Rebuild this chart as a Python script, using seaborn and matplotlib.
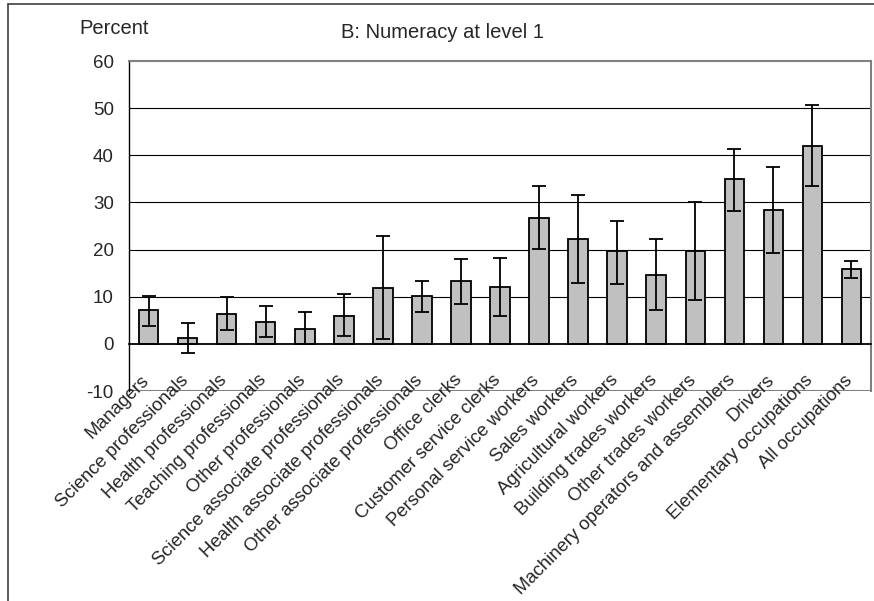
import matplotlib
matplotlib.use("Agg")
import matplotlib.pyplot as plt
import matplotlib.transforms as mtransforms
from matplotlib.lines import Line2D
import seaborn as sns
import numpy as np
import pandas as pd

# categories and values
occupations = [
    "Managers", "Science professionals", "Health professionals",
    "Teaching professionals", "Other professionals",
    "Science associate professionals", "Health associate professionals",
    "Other associate professionals", "Office clerks",
    "Customer service clerks", "Personal service workers", "Sales workers",
    "Agricultural workers", "Building trades workers", "Other trades workers",
    "Machinery operators and assemblers", "Drivers",
    "Elementary occupations", "All occupations",
]
share = [7.2, 1.3, 6.3, 4.7, 3.2, 6.0, 11.8, 10.2, 13.3, 12.1,
         26.6, 22.3, 19.7, 14.6, 19.8, 34.9, 28.5, 41.9, 15.9]
ci_low = [3.8, -2.0, 2.9, 1.4, 0.0, 1.6, 1.0, 6.8, 8.5, 5.9,
          20.1, 13.0, 12.7, 7.2, 9.4, 28.1, 19.2, 33.4, 14.0]
ci_high = [10.2, 4.4, 10.0, 8.1, 6.8, 10.6, 22.9, 13.3, 18.0, 18.2,
           33.4, 31.6, 26.0, 22.3, 30.0, 41.4, 37.6, 50.6, 17.6]
y_ticks = [-10, 0, 10, 20, 30, 40, 50, 60]

df = pd.DataFrame({"occupation": occupations, "share": share})

sns.set_style("white")
plt.rcParams["font.family"] = ["Liberation Sans", "DejaVu Sans"]
plt.rcParams["axes.unicode_minus"] = False

fig = plt.figure(figsize=(8.74, 6.01), dpi=100)
ax = fig.add_axes([129 / 874, 1 - 391 / 601, (871 - 129) / 874, (391 - 61) / 601])

# gridlines behind the bars
for v in y_ticks[2:-1]:
    ax.axhline(v, color="black", lw=0.8, zorder=0)
ax.axhline(-10, color="#808080", lw=1.5, zorder=0)

sns.barplot(data=df, x="occupation", y="share", color="#c0c0c0",
            saturation=1, edgecolor="black", linewidth=1.3, width=0.5,
            errorbar=None, ax=ax, zorder=2)

# confidence intervals
vals = np.array(share)
yerr = np.vstack([vals - np.array(ci_low), np.array(ci_high) - vals])
ax.errorbar(np.arange(len(occupations)), vals, yerr=yerr, fmt="none",
            ecolor="black", elinewidth=1.3, capsize=5.2, capthick=1.3,
            zorder=3)

ax.set_xlim(-0.5, len(occupations) - 0.5)
ax.set_ylim(-10, 60)
ax.set_yticks(y_ticks)
ax.set_xlabel("")
ax.set_ylabel("")

for s in ["top", "right"]:
    ax.spines[s].set_color("#808080")
    ax.spines[s].set_linewidth(1.5)
ax.spines["left"].set_color("black")
ax.spines["left"].set_linewidth(1.0)
ax.spines["bottom"].set_position(("data", 0))
ax.spines["bottom"].set_color("black")
ax.spines["bottom"].set_linewidth(1.3)
ax.spines["bottom"].set_zorder(4)

ax.tick_params(axis="y", direction="out", length=5, width=1, color="black",
               labelsize=13.5, pad=6)
ax.set_xticks(np.arange(len(occupations)))
ax.set_xticks(np.arange(len(occupations) - 1) + 0.5, minor=True)
ax.tick_params(axis="x", which="major", length=0, pad=20)
ax.tick_params(axis="x", which="minor", direction="in", length=5, width=1,
               color="black")
ax.set_xticklabels(occupations, rotation=45, ha="right",
                   rotation_mode="anchor", fontsize=13.3)
shift = mtransforms.ScaledTranslation(-8 / 100, 0, fig.dpi_scale_trans)
for lab in ax.get_xticklabels():
    lab.set_transform(lab.get_transform() + shift)

fig.text(114.5 / 874, 1 - 29 / 601, "Percent", ha="center", va="center",
         fontsize=14.5)
fig.text(442 / 874, 1 - 33 / 601, "B: Numeracy at level 1", ha="center",
         va="center", fontsize=14.5)

# outer frame of the exhibit
fig.add_artist(Line2D([8 / 874, 8 / 874], [0, 1 - 4 / 601], color="#404040",
                      lw=1.2, transform=fig.transFigure))
fig.add_artist(Line2D([8 / 874, 1], [1 - 4 / 601, 1 - 4 / 601],
                      color="#404040", lw=1.2, transform=fig.transFigure))

fig.savefig("out.png", dpi=100)
